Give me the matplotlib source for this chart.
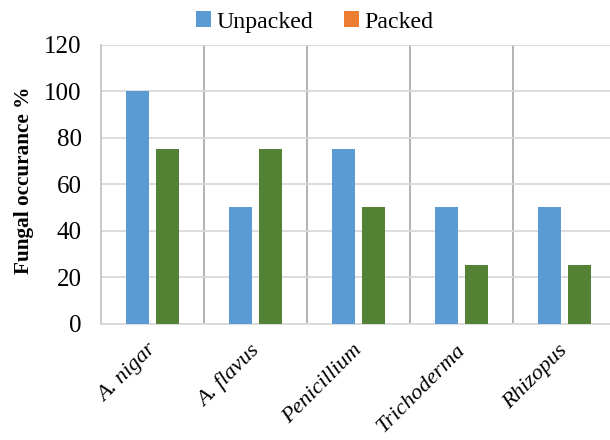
import matplotlib
matplotlib.use("Agg")
import matplotlib.pyplot as plt
import matplotlib.transforms as mtransforms
import numpy as np
from matplotlib.patches import Patch

categories = ["A. nigar", "A. flavus", "Penicillium", "Trichoderma", "Rhizopus"]
unpacked = [100, 50, 75, 50, 50]
packed = [75, 75, 50, 25, 25]
yticks = [0, 20, 40, 60, 80, 100, 120]

plt.rcParams['font.family'] = ['Liberation Serif', 'DejaVu Serif']

fig = plt.figure(figsize=(6.1, 4.4), dpi=100)
ax = fig.add_axes([101/610, 1 - 323.5/440, 1 - 101/610, (323.5 - 44.5)/440])

x = np.arange(len(categories))
w = 0.23
ax.bar(x - 0.145, unpacked, width=w, color='#5B9BD5', zorder=3)
ax.bar(x + 0.145, packed, width=w, color='#548235', zorder=3)

ax.set_ylim(0, 120)
ax.set_xlim(-0.5, 4.5 - 6/103)
ax.set_yticks(yticks)
ax.yaxis.grid(True, color='#D9D9D9', linewidth=1.3, zorder=0)
for s in np.arange(0.5, len(categories) - 0.5, 1):
    ax.axvline(s, color='#A6A6A6', linewidth=1.2, zorder=1)

for sp in ['top', 'right']:
    ax.spines[sp].set_visible(False)
ax.spines['left'].set_color('#BFBFBF')
ax.spines['left'].set_linewidth(1.2)
ax.spines['bottom'].set_color('#D9D9D9')
ax.spines['bottom'].set_linewidth(1.3)

ax.tick_params(axis='y', length=0, labelsize=18, pad=14)
ax.tick_params(axis='x', length=0, pad=11)
ax.set_xticks(x)
ax.set_xticklabels(categories, rotation=45, ha='right', va='top',
                   rotation_mode='anchor', fontsize=16.2, fontstyle='italic')
offset = mtransforms.ScaledTranslation(-6/100, -2/100, fig.dpi_scale_trans)
for lab in ax.get_xticklabels():
    lab.set_transform(lab.get_transform() + offset)

ax.set_ylabel("Fungal occurance %", fontsize=15.3, fontweight='bold')
ax.yaxis.set_label_coords(-67/509, (323.5 - 180)/279)

handles = [Patch(facecolor='#5B9BD5', label='Unpacked'),
           Patch(facecolor='#ED7D31', label='Packed')]
fig.legend(handles=handles, loc='center', bbox_to_anchor=(315/610, 1 - 22/440),
           ncol=2, frameon=False, fontsize=17.2, handlelength=0.6, handleheight=0.6,
           handletextpad=0.25, columnspacing=1.3)

fig.savefig("out.png", dpi=100)
